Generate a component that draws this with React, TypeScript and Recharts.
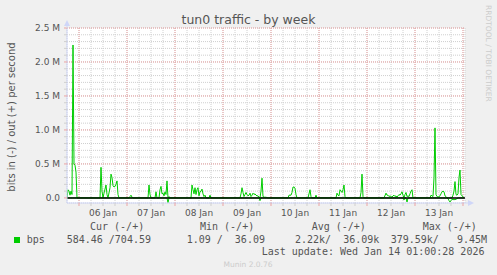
import React from "react";
import { ComposedChart, Line, XAxis, YAxis, CartesianGrid, ReferenceLine } from "recharts";

// time in hours relative to 06 Jan 00:00, traffic in kbit/s
const outSamples: [number, number][] = [
  [-6, 0], [-5.5, 120], [-5, 100], [-4.5, 40], [-4, 100], [-3.5, 50], [-3, 2250], [-2.5, 500], [-2, 480], [-1.5, 380], [-1, 0],
  [10.5, 0], [11, 450], [11.5, 100], [12, 0], [12.5, 70], [13.5, 190], [14, 50], [14.5, 0], [15.5, 150], [16, 350], [16.5, 300],
  [17, 180], [17.5, 160], [18, 170], [18.5, 200], [19, 250], [19.5, 50], [20, 0],
  [25, 0], [25.5, 20], [26, 40], [26.5, 10], [27, 0],
  [34.5, 0], [35, 190], [35.5, 50], [36, 0], [38, 0], [38.5, 90], [39, 0],
  [40, 0], [40.5, 120], [41, 170], [41.5, 60], [42, 70], [42.5, 30], [43, 90], [43.5, 50], [44, 250], [44.5, 0], [45, 20], [45.5, 0],
  [56, 0], [56.5, 190], [57, 120], [57.5, 60], [58, 150], [58.5, 50], [59, 120], [59.5, 150], [60, 30], [60.5, 90], [61, 100],
  [61.5, 130], [62, 60], [62.5, 20], [63, 40], [63.5, 0], [65, 0], [65.5, 40], [66, 0],
  [80.5, 0], [81, 60], [81.5, 150], [82, 80], [82.5, 20], [83, 50], [83.5, 80], [84, 50], [84.5, 30], [85, 40], [85.5, 70],
  [86, 20], [86.5, 40], [87, 70], [87.5, 50], [88, 60], [88.5, 40], [89, 30], [89.5, 30], [90, 10], [90.5, 0], [91, 100],
  [91.5, 290], [92, 20], [92.5, 10], [93.5, 10], [94.5, 0],
  [104.5, 0], [105, 40], [106, 40], [106.5, 80], [107, 160], [107.5, 160], [108, 140], [108.5, 50], [109, 0],
  [114.5, 0], [115.5, 120], [116, 20], [116.5, 0], [118, 0], [118.5, 40], [119, 0],
  [128.5, 0], [129, 70], [129.5, 40], [130, 30], [130.5, 120], [131, 100], [131.5, 80], [132, 120], [132.5, 190], [133, 20], [133.5, 0],
  [140.5, 0], [141, 80], [141.5, 350], [142, 20], [142.5, 0],
  [152.5, 0], [153.5, 70], [154, 40], [154.5, 40], [155, 20], [155.5, 30], [156, 20], [156.5, 10], [157, 30], [157.5, 40],
  [158, 20], [158.5, 30], [159, 10], [159.5, 30], [160, 50], [160.5, 40], [161, 60], [161.5, 90], [162, 40], [162.5, 0],
  [163, 50], [163.5, 80], [164, 20], [164.5, 30], [165, 20], [165.5, 60], [166, 100], [166.5, 120], [167, 0],
  [175.5, 0], [176, 40], [176.5, 30], [177, 20], [177.5, 300], [178, 1030], [178.5, 50], [179, 20], [179.5, 10], [180, 20],
  [180.5, 30], [181, 60], [181.5, 90], [182, 100], [182.5, 90], [183, 30], [183.5, 20], [184, 0],
  [186.5, 0], [187, 40], [187.5, 100], [188, 240], [188.5, 50], [189, 40], [189.5, 60], [190, 300], [190.5, 410], [191, 50],
  [191.5, 30], [192, 20], [192.5, 0],
];

// incoming traffic (drawn below zero), kbit/s
const inSamples: [number, number][] = [
  [-6, 0], [44, 0], [44.5, 70], [45, 0], [90, 0], [90.5, 40], [91, 0],
  [162, 0], [162.5, 30], [163, 0], [163.5, 0], [164, 60], [164.5, 0],
  [184, 0], [184.5, 10], [185, 40], [185.5, 60], [186, 40], [186.5, 20], [187, 25], [187.5, 25], [188, 25], [188.5, 20],
  [189, 10], [189.5, 0], [192.5, 0],
];

const dayLabels = ["06 Jan", "07 Jan", "08 Jan", "09 Jan", "10 Jan", "11 Jan", "12 Jan", "13 Jan"];
const dayLabelHours = [12, 36, 60, 84, 108, 132, 156, 180];
const dayStartHours = [0, 24, 48, 72, 96, 120, 144, 168, 192];
const sixHourTicks = [0, 6, 12, 18, 24, 30, 36, 42, 48, 54, 60, 66, 72, 78, 84, 90, 96, 102, 108, 114, 120, 126, 132, 138,
  144, 150, 156, 162, 168, 174, 180, 186, 192];
const yTicks = [0, 100000, 200000, 300000, 400000, 500000, 600000, 700000, 800000, 900000, 1000000, 1100000, 1200000,
  1300000, 1400000, 1500000, 1600000, 1700000, 1800000, 1900000, 2000000, 2100000, 2200000, 2300000, 2400000, 2500000];
const yMajorValues = [500000, 1000000, 1500000, 2000000, 2500000];
const yLabelValues = [0, 500000, 1000000, 1500000, 2000000, 2500000];
const yLabelTexts = ["0.0", "0.5 M", "1.0 M", "1.5 M", "2.0 M", "2.5 M"];

const legendHeaders = ["Cur (-/+)", "Min (-/+)", "Avg (-/+)", "Max (-/+)"];
const legendValues = ["584.46 /704.59", "1.09 /  36.09", "2.22k/  36.09k", "379.59k/   9.45M"];
const seriesName = "bps";
const titleText = "tun0 traffic - by week";
const yAxisTitle = "bits in (-) / out (+) per second";
const lastUpdate = "Last update: Wed Jan 14 01:00:28 2026";
const sideText = "RRDTOOL / TOBI OETIKER";
const footerText = "Munin 2.0.76";

const outData = outSamples.map(([h, k]) => ({ h, v: k * 1000 }));
const inData = inSamples.map(([h, k]) => ({ h, v: -k * 1000 }));

const SANS = "'DejaVu Sans', sans-serif";
const MONO = "'DejaVu Sans Mono', monospace";
const FONT_COLOR = "#555";
const AXIS_COLOR = "#CFD6F8";
const MGRID = "#eba3a3";
const GRID = "#cfcfcf";
const GREEN = "#00cc00";

const XTick = (props: any) => {
  const { x, y, payload } = props;
  const v = payload.value as number;
  const idx = dayLabelHours.indexOf(v);
  const major = dayStartHours.indexOf(v) >= 0;
  return (
    <g>
      <line x1={x} x2={x} y1={y} y2={y + 3} stroke={major ? MGRID : GRID} />
      {idx >= 0 && (
        <text x={x} y={y + 13} textAnchor="middle" fontSize={9} fontFamily={SANS} fill={FONT_COLOR}>
          {dayLabels[idx]}
        </text>
      )}
    </g>
  );
};

const YTick = (props: any) => {
  const { x, y, payload } = props;
  const v = payload.value as number;
  const idx = yLabelValues.indexOf(v);
  return (
    <g>
      <line x1={x - 3} x2={x} y1={y} y2={y} stroke={idx >= 0 ? MGRID : GRID} />
      {idx >= 0 && (
        <text x={x - 7} y={y + 3.3} textAnchor="end" fontSize={9} fontFamily={SANS} fill={FONT_COLOR}>
          {yLabelTexts[idx]}
        </text>
      )}
    </g>
  );
};

export default function App() {
  return (
    <div style={{ position: "absolute", left: 0, top: 0, width: 497, height: 275, background: "#f0f0f0", overflow: "hidden" }}>
      <ComposedChart width={497} height={275} margin={{ top: 28, right: 32, bottom: 52, left: 0 }}>
        <CartesianGrid fill="#ffffff" stroke={GRID} strokeDasharray="1 1" />
        <XAxis
          dataKey="h"
          type="number"
          domain={[-6, 193]}
          allowDataOverflow
          ticks={sixHourTicks}
          interval={0}
          height={20}
          tickSize={0}
          tickMargin={0}
          tickLine={false}
          axisLine={{ stroke: AXIS_COLOR }}
          tick={<XTick />}
        />
        <YAxis
          type="number"
          domain={[-75000, 2500000]}
          allowDataOverflow
          ticks={yTicks}
          interval={0}
          width={67}
          tickSize={0}
          tickMargin={0}
          tickLine={false}
          axisLine={{ stroke: AXIS_COLOR }}
          tick={<YTick />}
        />
        {dayStartHours.map((h) => (
          <ReferenceLine key={"vx" + h} x={h} stroke={MGRID} strokeDasharray="1 1" />
        ))}
        {yMajorValues.map((v) => (
          <ReferenceLine key={"hy" + v} y={v} stroke={MGRID} strokeDasharray="1 1" />
        ))}
        <Line data={outData} dataKey="v" type="linear" stroke={GREEN} strokeWidth={1} dot={false} isAnimationActive={false} />
        <Line data={inData} dataKey="v" type="linear" stroke={GREEN} strokeWidth={1} dot={false} isAnimationActive={false} />
        <ReferenceLine y={0} stroke="#000000" strokeWidth={1.5} />
      </ComposedChart>
      <svg width={497} height={275} style={{ position: "absolute", left: 0, top: 0, pointerEvents: "none" }}>
        <line x1={67} x2={67} y1={22} y2={28} stroke={AXIS_COLOR} />
        <polygon points="64,26 67,20 70,26" fill={AXIS_COLOR} />
        <line x1={465} x2={470} y1={203} y2={203} stroke={AXIS_COLOR} />
        <polygon points="468,200 474,203 468,206" fill={AXIS_COLOR} />
        <text x={248.5} y={24} textAnchor="middle" fontSize={12.5} fontFamily={SANS} fill={FONT_COLOR}>{titleText}</text>
        <text transform="translate(14.5,117) rotate(-90)" textAnchor="middle" fontSize={10} fontFamily={SANS} fill={FONT_COLOR}>{yAxisTitle}</text>
        <text transform="translate(485.5,5) rotate(90)" fontSize={7.5} fontFamily={SANS} fill="#cccccc">{sideText}</text>
        {legendHeaders.map((t, i) => (
          <text key={t} x={[90, 200, 311.7, 422.7][i]} y={230} fontSize={10} fontFamily={MONO} fill={FONT_COLOR} style={{ whiteSpace: "pre" }}>{t}</text>
        ))}
        <rect x={14} y={237} width={6} height={6} fill={GREEN} />
        <text x={26.7} y={243} fontSize={10} fontFamily={MONO} fill={FONT_COLOR}>{seriesName}</text>
        {legendValues.map((t, i) => (
          <text key={t} x={[66.7, 186.7, 295, 390.7][i]} y={243} fontSize={10} fontFamily={MONO} fill={FONT_COLOR} style={{ whiteSpace: "pre" }}>{t}</text>
        ))}
        <text x={261.7} y={254.5} fontSize={10} fontFamily={MONO} fill={FONT_COLOR} style={{ whiteSpace: "pre" }}>{lastUpdate}</text>
        <text x={248} y={266.7} textAnchor="middle" fontSize={7.5} fontFamily={SANS} fill="#cccccc">{footerText}</text>
      </svg>
    </div>
  );
}
